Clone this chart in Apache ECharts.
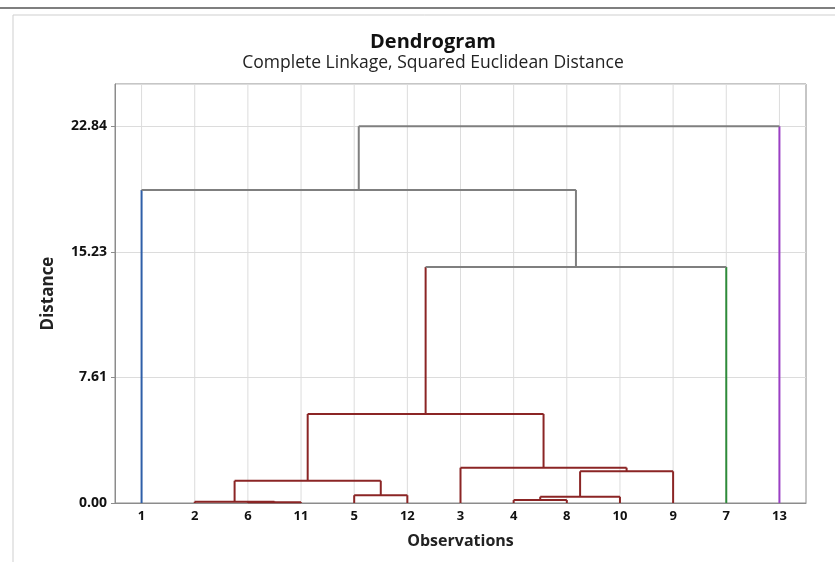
<!DOCTYPE html>
<html>
<head>
<meta charset="utf-8">
<script src="https://cdn.jsdelivr.net/npm/echarts@6/dist/echarts.min.js"></script>
<style>
  html, body { margin: 0; padding: 0; background: #fff; }
  #chart { width: 835px; height: 562px; }
</style>
</head>
<body>
<div id="chart"></div>
<script>
// leaves in dendrogram order
var leaves = ['1', '2', '6', '11', '5', '12', '3', '4', '8', '10', '9', '7', '13'];
// merges: [left cluster, right cluster, distance]; new clusters get id 13, 14, ...
var mergeLeft = [2, 1, 4, 14, 7, 17, 18, 6, 16, 21, 0, 23];
var mergeRight = [3, 13, 5, 15, 8, 9, 10, 19, 20, 11, 22, 12];
var mergeHeight = [0.05, 0.08, 0.47, 1.35, 0.18, 0.38, 1.92, 2.14, 5.40, 14.31, 18.98, 22.84];
var yTicks = [0, 7.61, 15.23, 22.84];
var yMax = 25.4;

var FONT = '"Open Sans", "Noto Sans", sans-serif';
var RED = '#8b2525', GRAY = '#7f7f7f';
var leafColor = { 0: '#2f5fa8', 11: '#2e8b3a', 12: '#9b3fc4' };

window.onload = function () {
    myDendrogram();
};

// node position and height
var nodeX = [], nodeH = [];
leaves.forEach(function (name, i) {
    nodeX.push(i);
    nodeH.push(0);
});
mergeHeight.forEach(function (h, k) {
    nodeX.push((nodeX[mergeLeft[k]] + nodeX[mergeRight[k]]) / 2);
    nodeH.push(h);
});

// red cluster = leaves 1..10 and merges up to node 21
function colorOf(id) {
    if (leafColor[id]) return leafColor[id];
    if (id <= 21) return RED;
    return GRAY;
}

var segments = [];
mergeHeight.forEach(function (h, k) {
    var l = mergeLeft[k], r = mergeRight[k], id = leaves.length + k;
    segments.push([nodeX[l], nodeH[l], nodeX[l], h, colorOf(l)]);
    segments.push([nodeX[r], nodeH[r], nodeX[r], h, colorOf(r)]);
    segments.push([nodeX[l], h, nodeX[r], h, colorOf(id)]);
});

// vertical grid lines at each leaf
var gridLines = leaves.map(function (name, i) {
    return [i, 0, i, yMax, '#dcdcdc'];
});

function renderSegment(data, width) {
    return function (params, api) {
        var p1 = api.coord([api.value(0), api.value(1)]);
        var p2 = api.coord([api.value(2), api.value(3)]);
        return {
            type: 'line',
            shape: { x1: p1[0], y1: p1[1], x2: p2[0], y2: p2[1] },
            style: { stroke: data[params.dataIndex][4], lineWidth: width }
        };
    };
}

var myDendrogram = function () {
    var chart = echarts.init(document.getElementById('chart'));
    var option = {
        animation: false,
        title: [{
            text: 'Dendrogram',
            left: 428,
            top: 27,
            textAlign: 'center',
            textStyle: { fontFamily: FONT, fontSize: 20, fontWeight: 'bold', color: '#111' }
        }, {
            text: 'Complete Linkage, Squared Euclidean Distance',
            left: 428,
            top: 49,
            textAlign: 'center',
            textStyle: { fontFamily: FONT, fontSize: 17.5, fontWeight: 'normal', color: '#222' }
        }],
        graphic: [{
            type: 'line',
            shape: { x1: 0, y1: 8, x2: 835, y2: 8 },
            style: { stroke: '#555', lineWidth: 1.5 }
        }, {
            type: 'rect',
            shape: { x: 13, y: 15, width: 900, height: 600 },
            style: { fill: 'none', stroke: '#cfcfcf', lineWidth: 1 }
        }],
        grid: { left: 115, right: 29, top: 84, bottom: 59, show: true, borderColor: '#8c8c8c', borderWidth: 1 },
        xAxis: [{
            type: 'category',
            data: leaves,
            boundaryGap: true,
            name: 'Observations',
            nameLocation: 'middle',
            nameGap: 30,
            nameTextStyle: { fontFamily: FONT, fontSize: 16, fontWeight: 'bold', color: '#222' },
            axisLine: { lineStyle: { color: '#8c8c8c' } },
            axisTick: { alignWithLabel: true, length: 4, lineStyle: { color: '#8c8c8c' } },
            axisLabel: { fontFamily: FONT, fontSize: 13, fontWeight: 'bold', color: '#111', margin: 7, interval: 0 },
            splitLine: { show: false }
        }, {
            type: 'value',
            min: -0.5,
            max: leaves.length - 0.5,
            show: false
        }],
        yAxis: {
            type: 'value',
            min: 0,
            max: yMax,
            interval: yTicks[3] / 3,
            name: 'Distance',
            nameLocation: 'middle',
            nameGap: 58,
            nameTextStyle: { fontFamily: FONT, fontSize: 17, fontWeight: 'bold', color: '#222' },
            axisLine: { show: true, onZero: false, lineStyle: { color: '#8c8c8c' } },
            axisTick: { show: true, length: 4, lineStyle: { color: '#8c8c8c' } },
            axisLabel: {
                fontFamily: FONT, fontSize: 14, fontWeight: 'bold', color: '#111', margin: 8,
                showMaxLabel: false,
                formatter: function (v) { return v.toFixed(2); }
            },
            splitLine: { lineStyle: { color: '#dcdcdc' } }
        },
        series: [{
            type: 'custom',
            xAxisIndex: 1,
            yAxisIndex: 0,
            z: 1,
            silent: true,
            data: gridLines,
            renderItem: renderSegment(gridLines, 1)
        }, {
            type: 'custom',
            xAxisIndex: 1,
            yAxisIndex: 0,
            z: 2,
            data: segments,
            renderItem: renderSegment(segments, 2)
        }]
    };
    chart.setOption(option);
};
</script>
</body>
</html>
